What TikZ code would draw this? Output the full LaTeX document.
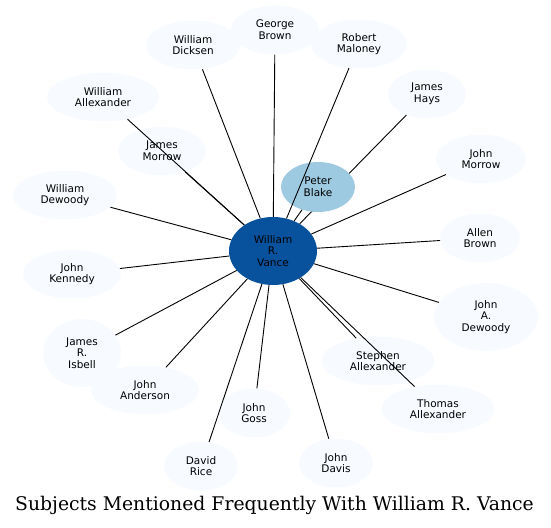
\documentclass[tikz,border=0pt]{standalone}
\usepackage{fontspec}
\setmainfont{DejaVu Serif}
\newfontfamily\nodefont{DejaVu Sans}
\usetikzlibrary{shapes.geometric}
\definecolor{leaf}{HTML}{F7FBFF}
\definecolor{hub}{HTML}{08519C}
\definecolor{mid}{HTML}{9ECAE1}
\tikzset{
  person/.style={ellipse, fill=leaf, draw=none, inner sep=0pt, align=center,
    font=\nodefont\fontsize{10.5}{11.7}\selectfont},
  hubnode/.style={person, fill=hub},
  midnode/.style={person, fill=mid},
  link/.style={draw=black, line width=0.9pt},
}
\newcommand{\pn}[6]{\node[#1, minimum width=#4pt, minimum height=#5pt] (#2) at (#3) {#6};}
\begin{document}
\begin{tikzpicture}[x=1pt,y=-1pt]
\useasboundingbox (0,0) rectangle (551,527);
% nodes
\pn{person}{dicksen}{193,45}{94}{49}{William\\Dicksen}
\pn{person}{maloney}{359,44}{96}{49}{Robert\\Maloney}
\pn{person}{gbrown}{275,30}{88}{49}{George\\Brown}
\pn{person}{wallex}{103,97}{112}{49}{William\\Allexander}
\pn{person}{hays}{427,94}{78}{49}{James\\Hays}
\pn{person}{jmorrow}{162,151}{88}{49}{James\\Morrow}
\pn{person}{johnmorrow}{481,159}{90}{49}{John\\Morrow}
\pn{person}{wdewoody}{65,195}{104}{49}{William\\Dewoody}
\pn{person}{abrown}{480,238}{80}{49}{Allen\\Brown}
\pn{person}{kennedy}{72,274}{98}{49}{John\\Kennedy}
\pn{person}{jadewoody}{486,317}{104}{68}{John\\A.\\Dewoody}
\pn{person}{isbell}{82,353}{78}{68}{James\\R.\\Isbell}
\pn{person}{anderson}{145,390}{108}{49}{John\\Anderson}
\pn{person}{stephen}{378,361}{113}{49}{Stephen\\Allexander}
\pn{person}{thomas}{438,409}{113}{49}{Thomas\\Allexander}
\pn{person}{goss}{254,413}{72}{49}{John\\Goss}
\pn{person}{rice}{201,466}{74}{49}{David\\Rice}
\pn{person}{davis}{336,463}{74}{49}{John\\Davis}
\pn{hubnode}{vance}{273,251}{88}{68}{William\\R.\\Vance}
% edges
\foreach \t in {dicksen,gbrown,wallex,hays,jmorrow,johnmorrow,wdewoody,abrown,kennedy,jadewoody,isbell,anderson,stephen,thomas,goss,rice,davis}
  \draw[link] (vance) -- (\t);
\pn{midnode}{blake}{318,187}{74}{50}{Peter\\Blake}
\draw[link] (vance) -- (blake);
\draw[link] (vance) -- (maloney);
% title
\node[font=\fontsize{18.8}{22}\selectfont, anchor=base] (title) at (274.5,510) {Subjects Mentioned Frequently With William R. Vance};
\end{tikzpicture}
\end{document}
